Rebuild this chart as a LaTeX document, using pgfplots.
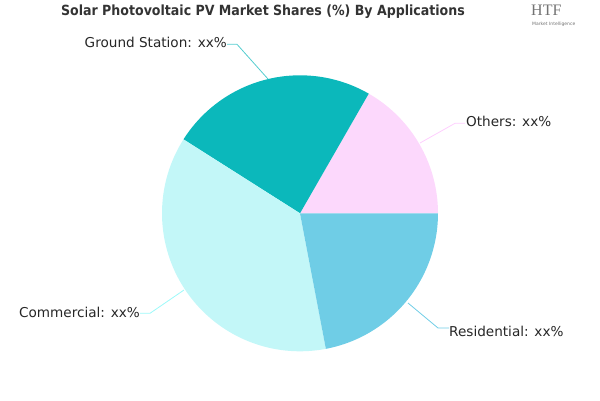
\documentclass[border=0pt]{standalone}
\usepackage{pgfplots}
\pgfplotsset{compat=1.18}
\usepackage{fontspec}
\setmainfont{DejaVu Sans}
\newfontfamily\titlefont{DejaVu Sans Condensed}
\newfontfamily\logofont{Liberation Serif}
\definecolor{cOthers}{HTML}{FCD8FC}
\definecolor{cGround}{HTML}{0BB8BB}
\definecolor{cComm}{HTML}{C3F7F8}
\definecolor{cRes}{HTML}{6FCDE6}
\begin{document}
\begin{tikzpicture}
% shares in percent, counter-clockwise from 0 degrees
\def\vOthers{16.7}
\def\vGround{24.3}
\def\vComm{37.0}
\def\vRes{22.0}
\pgfmathsetmacro\aA{\vOthers*3.6}
\pgfmathsetmacro\aB{\aA+\vGround*3.6}
\pgfmathsetmacro\aC{\aB+\vComm*3.6}
\pgfmathsetmacro\aD{\aC+\vRes*3.6}
\begin{axis}[scale only axis, width=600pt, height=400pt,
  xmin=0, xmax=600, ymin=0, ymax=400, hide axis, clip=false]
\path[draw=none] (axis cs:0,0) rectangle (axis cs:600,400);
\addplot[fill=cOthers, draw=none, domain=0:\aA, samples=60] ({300+138*cos(x)},{186.7+138*sin(x)}) -- (axis cs:300,186.7) -- cycle;
\addplot[fill=cGround, draw=none, domain=\aA:\aB, samples=60] ({300+138*cos(x)},{186.7+138*sin(x)}) -- (axis cs:300,186.7) -- cycle;
\addplot[fill=cComm, draw=none, domain=\aB:\aC, samples=80] ({300+138*cos(x)},{186.7+138*sin(x)}) -- (axis cs:300,186.7) -- cycle;
\addplot[fill=cRes, draw=none, domain=\aC:\aD, samples=60] ({300+138*cos(x)},{186.7+138*sin(x)}) -- (axis cs:300,186.7) -- cycle;
% leader lines
\addplot[color=cGround!70!white, line width=0.8pt] coordinates {(268,321) (237,355.7) (227,355.7)};
\addplot[color=cOthers!80!magenta!60, line width=0.8pt] coordinates {(420,257) (455,276.7) (465,276.7)};
\addplot[color=cComm!80!cyan, line width=0.8pt] coordinates {(184,110) (150,86.7) (140,86.7)};
\addplot[color=cRes, line width=0.8pt] coordinates {(408,97) (438,72) (449,72)};
% labels
\node[anchor=east, inner sep=0pt, font=\fontsize{13.6}{15}\selectfont, text=black!85] at (axis cs:227,358) {Ground Station: xx\%};
\node[anchor=west, inner sep=0pt, font=\fontsize{13.6}{15}\selectfont, text=black!85] at (axis cs:466,279) {Others: xx\%};
\node[anchor=east, inner sep=0pt, font=\fontsize{13.6}{15}\selectfont, text=black!85] at (axis cs:140,88) {Commercial: xx\%};
\node[anchor=west, inner sep=0pt, font=\fontsize{13.6}{15}\selectfont, text=black!85] at (axis cs:449,69) {Residential: xx\%};
% title
\node[inner sep=0pt, font=\titlefont\bfseries\fontsize{14}{16}\selectfont, text=black!80] at (axis cs:263,388.5) {Solar Photovoltaic PV Market Shares (\%) By Applications};
% logo
\node[anchor=west, inner sep=0pt, font=\logofont\fontsize{16}{17}\selectfont, text=black!55] at (axis cs:531,390) {HTF};
\node[anchor=west, inner sep=0pt, font=\fontsize{4.5}{5}\selectfont, text=black!55] at (axis cs:532,376) {Market Intelligence};
\end{axis}
\end{tikzpicture}
\end{document}
